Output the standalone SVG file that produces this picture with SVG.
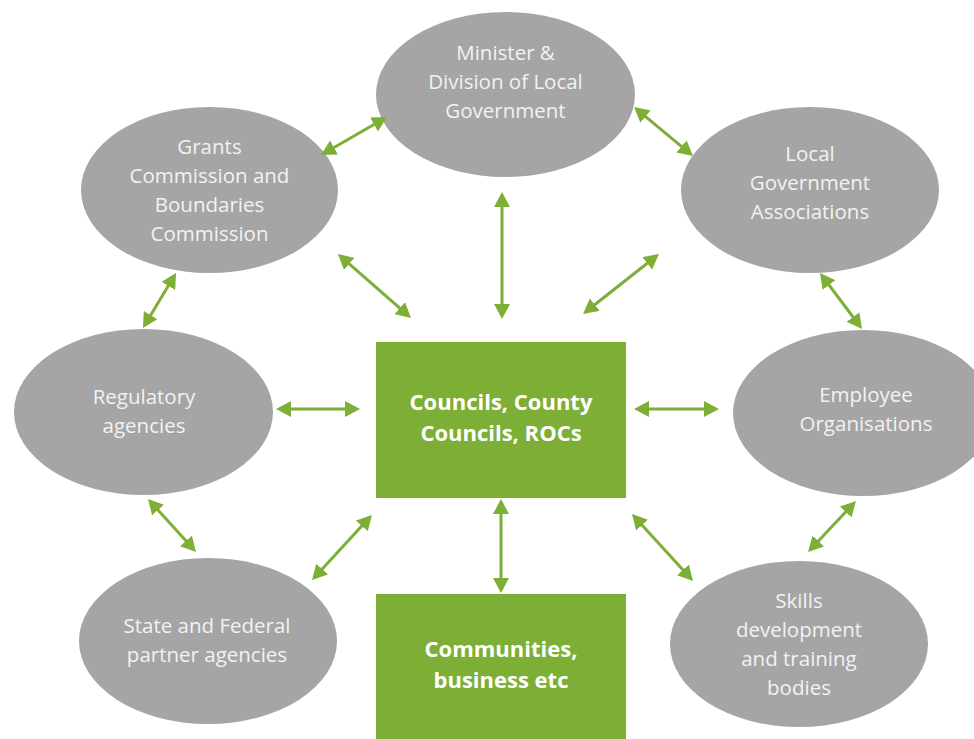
<svg xmlns="http://www.w3.org/2000/svg" width="974" height="739" viewBox="0 0 974 739">
  <defs>
    <marker id="ah" viewBox="0 0 15 16" markerWidth="15" markerHeight="16" refX="5" refY="8" orient="auto-start-reverse" markerUnits="userSpaceOnUse">
      <path d="M0,0 L15,8 L0,16 z" fill="#7DAF37"/>
    </marker>
  </defs>
  <style>
    .ell { fill: #A5A5A5; }
    .box { fill: #7DAF37; }
    .lbl { font-family: "Open Sans", "Liberation Sans", sans-serif; font-size: 20.5px; fill: #F2F2F2; text-anchor: middle; }
    .blbl { font-family: "Open Sans", "Liberation Sans", sans-serif; font-size: 22px; font-weight: bold; fill: #FFFFFF; text-anchor: middle; }
    .conn line { stroke: #7DAF37; stroke-width: 3; marker-start: url(#ah); marker-end: url(#ah); }
  </style>
  <rect width="974" height="739" fill="#FFFFFF"/>

  <g id="minister">
    <ellipse class="ell" cx="505.5" cy="94.5" rx="129.5" ry="82.5"/>
    <text class="lbl" x="505.5" y="60">Minister &amp;</text>
    <text class="lbl" x="505.5" y="89">Division of Local</text>
    <text class="lbl" x="505.5" y="118">Government</text>
  </g>
  <g id="grants">
    <ellipse class="ell" cx="209.5" cy="190" rx="128.5" ry="83"/>
    <text class="lbl" x="209.5" y="154">Grants</text>
    <text class="lbl" x="209.5" y="183">Commission and</text>
    <text class="lbl" x="209.5" y="212">Boundaries</text>
    <text class="lbl" x="209.5" y="241">Commission</text>
  </g>
  <g id="lga">
    <ellipse class="ell" cx="810" cy="190" rx="129" ry="83"/>
    <text class="lbl" x="810" y="161">Local</text>
    <text class="lbl" x="810" y="190">Government</text>
    <text class="lbl" x="810" y="219">Associations</text>
  </g>
  <g id="regulatory">
    <ellipse class="ell" cx="143.5" cy="412" rx="129.5" ry="83"/>
    <text class="lbl" x="144" y="404">Regulatory</text>
    <text class="lbl" x="144" y="433">agencies</text>
  </g>
  <g id="employee">
    <ellipse class="ell" cx="863" cy="413" rx="130" ry="83"/>
    <text class="lbl" x="866" y="402">Employee</text>
    <text class="lbl" x="866" y="431">Organisations</text>
  </g>
  <g id="state">
    <ellipse class="ell" cx="208" cy="641" rx="129" ry="83"/>
    <text class="lbl" x="207" y="633">State and Federal</text>
    <text class="lbl" x="207" y="662">partner agencies</text>
  </g>
  <g id="skills">
    <ellipse class="ell" cx="799" cy="644" rx="129" ry="83"/>
    <text class="lbl" x="799" y="608">Skills</text>
    <text class="lbl" x="799" y="637">development</text>
    <text class="lbl" x="799" y="666">and training</text>
    <text class="lbl" x="799" y="695">bodies</text>
  </g>
  <g id="councils">
    <rect class="box" x="376" y="342" width="250" height="156"/>
    <text class="blbl" x="501" y="410">Councils, County</text>
    <text class="blbl" x="501" y="441">Councils, ROCs</text>
  </g>
  <g id="communities">
    <rect class="box" x="376" y="594" width="250" height="145"/>
    <text class="blbl" x="501" y="657">Communities,</text>
    <text class="blbl" x="501" y="688">business etc</text>
  </g>

  <g id="connectors" class="conn">
    <line x1="329.7" y1="150" x2="378.3" y2="122"/>
    <line x1="345.5" y1="260.6" x2="403.5" y2="311.4"/>
    <line x1="502" y1="202" x2="502" y2="309"/>
    <line x1="641.7" y1="113.4" x2="685.3" y2="149.6"/>
    <line x1="590.9" y1="307.8" x2="651.1" y2="260.2"/>
    <line x1="826" y1="281" x2="856" y2="321"/>
    <line x1="286" y1="409" x2="350" y2="409"/>
    <line x1="170.9" y1="281.6" x2="148.1" y2="319.4"/>
    <line x1="644" y1="409" x2="709" y2="409"/>
    <line x1="154.7" y1="506.4" x2="189.3" y2="544.6"/>
    <line x1="365.2" y1="522.3" x2="318.8" y2="572.7"/>
    <line x1="638.7" y1="521.4" x2="686.3" y2="573.6"/>
    <line x1="849.1" y1="508.3" x2="814.9" y2="544.7"/>
    <line x1="501" y1="509" x2="501" y2="583"/>
  </g>
</svg>
